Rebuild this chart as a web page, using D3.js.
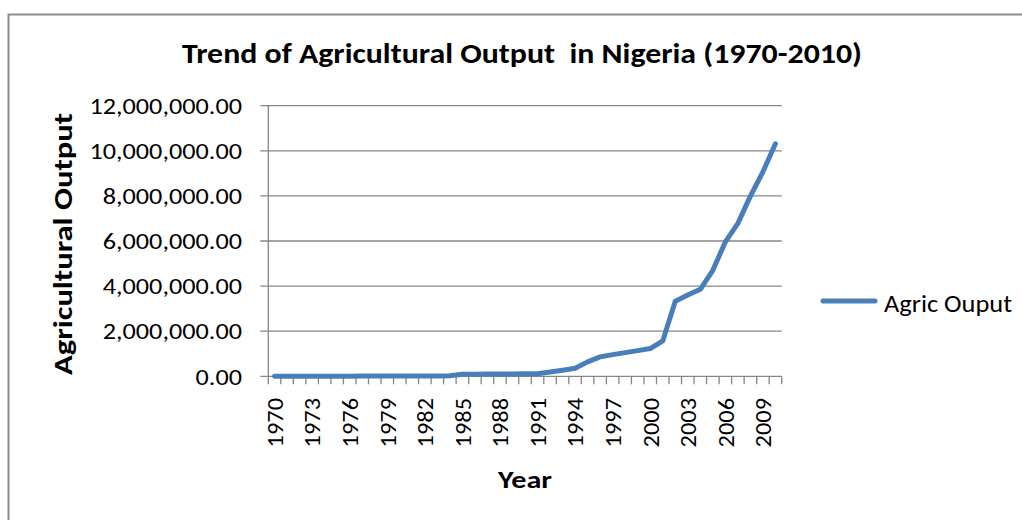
<!DOCTYPE html>
<html>
<head>
<meta charset="utf-8">
<script src="https://cdn.jsdelivr.net/npm/d3@7"></script>
<style>
  html, body { margin: 0; padding: 0; background: #fff; }
  svg { display: block; }
  text { font-family: Carlito, Lato, "Liberation Sans", sans-serif; fill: #000; }
</style>
</head>
<body>
<svg id="chart" width="1022" height="520"></svg>
<script>
// ---- data ----
const years = d3.range(1970, 2011);
const agricOutput = [
  2576, 3370, 3480, 3540, 5740, 6470, 7080, 8220, 9020, 10370,
  11630, 13380, 14780, 17070, 20350, 90000, 95000, 100000, 105000, 105000,
  110000, 115000, 190000, 270000, 360000, 640000, 860000, 960000, 1050000, 1140000,
  1230000, 1570000, 3330000, 3600000, 3860000, 4700000, 5960000, 6780000, 7990000, 9070000,
  10310000
];
const yTicks = [0, 2000000, 4000000, 6000000, 8000000, 10000000, 12000000];
const xLabelYears = [1970, 1973, 1976, 1979, 1982, 1985, 1988, 1991, 1994, 1997, 2000, 2003, 2006, 2009];
const seriesName = "Agric Ouput";
const titleText = "Trend of Agricultural Output  in Nigeria (1970-2010)";
const xTitle = "Year";
const yTitle = "Agricultural Output";

// ---- layout ----
const svg = d3.select("#chart");
const pLeft = 268.3, pRight = 781.7, pTop = 105.7, pBottom = 376.3;
const gridColor = "#868686";
const lineColor = "#4a7ebb";

// outer frame
svg.append("rect")
  .attr("x", 8.5).attr("y", 14.5)
  .attr("width", 1040).attr("height", 540)
  .attr("fill", "none").attr("stroke", "#8c8c8c").attr("stroke-width", 2);

const x = d3.scaleBand().domain(years).range([pLeft, pRight]).paddingInner(0).paddingOuter(0);
const y = d3.scaleLinear().domain([0, 12000000]).range([pBottom, pTop]);

// gridlines + y tick marks
svg.append("g").selectAll("line").data(yTicks).join("line")
  .attr("x1", pLeft - 8).attr("x2", pRight)
  .attr("y1", d => y(d)).attr("y2", d => y(d))
  .attr("stroke", gridColor).attr("stroke-width", 1.3);

// y axis line
svg.append("line")
  .attr("x1", pLeft).attr("x2", pLeft).attr("y1", pTop).attr("y2", pBottom)
  .attr("stroke", gridColor).attr("stroke-width", 1.3);

// x tick marks at category boundaries
const boundaries = years.map(d => x(d)).concat([x(years[years.length - 1]) + x.bandwidth()]);
svg.append("g").selectAll("line").data(boundaries).join("line")
  .attr("x1", d => d).attr("x2", d => d)
  .attr("y1", pBottom).attr("y2", pBottom + 8)
  .attr("stroke", gridColor).attr("stroke-width", 1.3);

// widen Lato slightly to mimic Calibri-like proportions
function stretch(sel, k) {
  sel.each(function () {
    const len = this.getComputedTextLength();
    d3.select(this).attr("textLength", len * k).attr("lengthAdjust", "spacingAndGlyphs");
  });
}

// y tick labels
const fmt = d3.format(",.2f");
svg.append("g").selectAll("text").data(yTicks).join("text")
  .attr("x", 242).attr("y", d => y(d))
  .attr("dy", "0.36em")
  .attr("text-anchor", "end")
  .style("font-size", "23px")
  .text(d => fmt(d))
  .call(stretch, 1.14);

// x tick labels (rotated)
svg.append("g").selectAll("text").data(xLabelYears).join("text")
  .attr("transform", d => `translate(${x(d) + x.bandwidth() / 2},398) rotate(-90)`)
  .attr("dy", "0.36em")
  .attr("text-anchor", "end")
  .style("font-size", "23px")
  .text(d => d)
  .call(stretch, 1.06);

// line
const line = d3.line()
  .x((d, i) => x(years[i]) + x.bandwidth() / 2)
  .y(d => y(d));
svg.append("path")
  .datum(agricOutput)
  .attr("d", line)
  .attr("fill", "none")
  .attr("stroke", lineColor)
  .attr("stroke-width", 5)
  .attr("stroke-linejoin", "round")
  .attr("stroke-linecap", "round");

// title
svg.append("text")
  .attr("x", 522).attr("y", 63.3)
  .attr("text-anchor", "middle")
  .attr("textLength", 680).attr("lengthAdjust", "spacingAndGlyphs")
  .style("font-size", "28.5px").style("font-weight", "bold")
  .style("white-space", "pre")
  .text(titleText);

// x title
svg.append("text")
  .attr("x", 525).attr("y", 487.5)
  .attr("text-anchor", "middle")
  .attr("textLength", 54).attr("lengthAdjust", "spacingAndGlyphs")
  .style("font-size", "25px").style("font-weight", "bold")
  .text(xTitle);

// y title
svg.append("text")
  .attr("transform", "translate(72,244) rotate(-90)")
  .attr("text-anchor", "middle")
  .attr("textLength", 262).attr("lengthAdjust", "spacingAndGlyphs")
  .style("font-size", "26px").style("font-weight", "bold")
  .text(yTitle);

// legend
svg.append("line")
  .attr("x1", 823).attr("x2", 875).attr("y1", 301).attr("y2", 301)
  .attr("stroke", lineColor).attr("stroke-width", 5).attr("stroke-linecap", "round");
svg.append("text")
  .attr("x", 884).attr("y", 311.5)
  .attr("textLength", 128).attr("lengthAdjust", "spacingAndGlyphs")
  .style("font-size", "24px")
  .text(seriesName);
</script>
</body>
</html>
